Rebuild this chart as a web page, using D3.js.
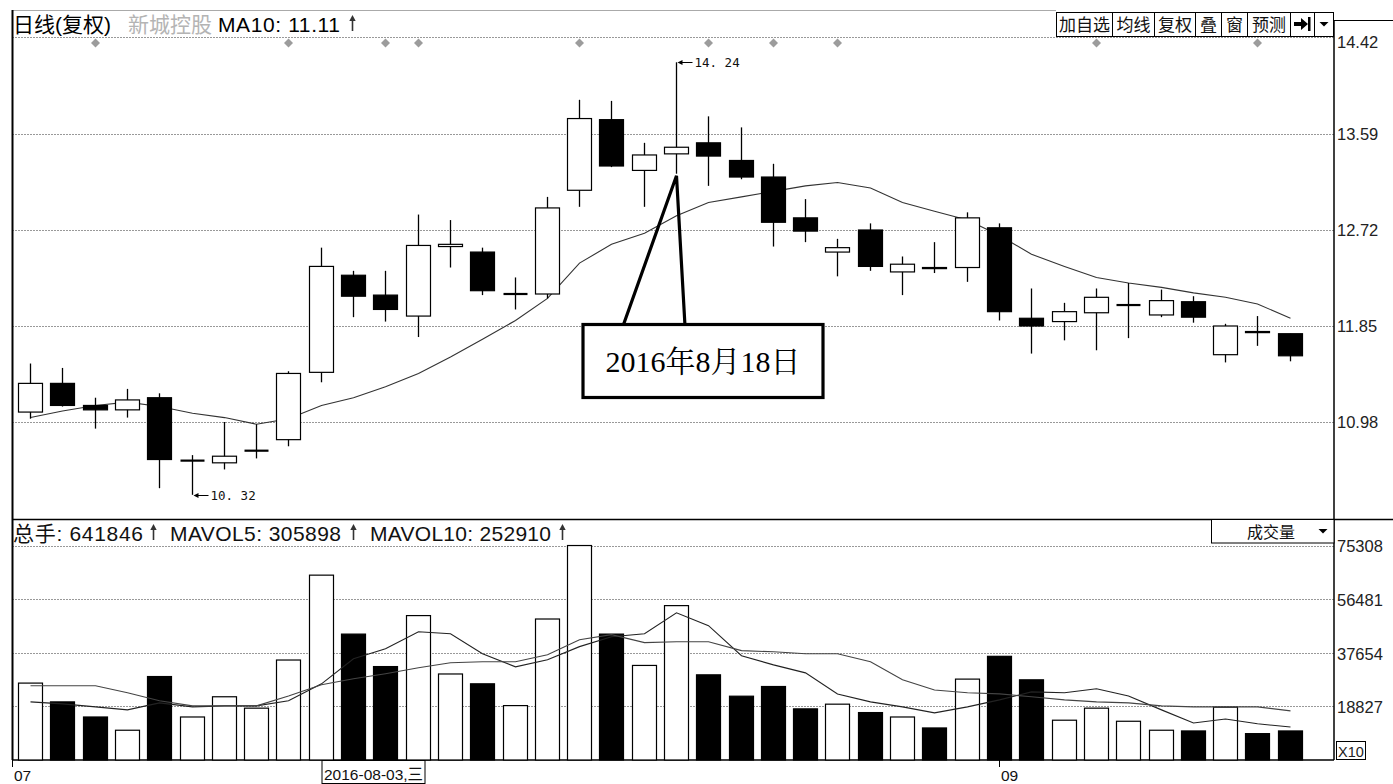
<!DOCTYPE html>
<html><head><meta charset="utf-8">
<script src="https://cdn.jsdelivr.net/npm/d3@7"></script>
<style>
html,body{margin:0;padding:0;background:#fff;}
svg{display:block;}
</style></head><body>
<svg id="chart" width="1393" height="784" font-family="Liberation Sans, Noto Sans CJK SC, sans-serif"></svg>
<script>
// ---------------- data ----------------
const dates = ["2016-07-21","2016-07-22","2016-07-25","2016-07-26","2016-07-27","2016-07-28","2016-07-29","2016-08-01","2016-08-02","2016-08-03",
"2016-08-04","2016-08-05","2016-08-08","2016-08-09","2016-08-10","2016-08-11","2016-08-12","2016-08-15","2016-08-16","2016-08-17",
"2016-08-18","2016-08-19","2016-08-22","2016-08-23","2016-08-24","2016-08-25","2016-08-26","2016-08-29","2016-08-30","2016-08-31",
"2016-09-01","2016-09-02","2016-09-05","2016-09-06","2016-09-07","2016-09-08","2016-09-09","2016-09-12","2016-09-13","2016-09-14"];
const openP  = [11.07,11.33,11.13,11.09,11.20,10.63,10.61,10.72,10.82,11.43,12.31,12.13,11.94,12.57,12.52,12.14,12.14,13.08,13.72,13.26,13.41,13.51,13.35,13.20,12.83,12.52,12.72,12.34,12.38,12.38,12.74,11.92,11.89,11.97,12.04,11.95,12.07,11.59,11.80,11.78];
const highP  = [11.51,11.47,11.20,11.28,11.24,10.68,10.98,10.96,11.44,12.56,12.35,12.35,12.86,12.81,12.56,12.29,13.02,13.90,13.89,13.51,14.24,13.75,13.65,13.32,13.00,12.64,12.78,12.48,12.61,12.88,12.78,12.19,12.06,12.19,12.24,12.18,12.12,11.87,11.94,11.78];
const lowP   = [11.01,11.12,10.92,11.02,10.38,10.32,10.55,10.65,10.76,11.34,11.93,11.89,11.75,12.38,12.13,12.00,12.10,12.93,13.29,12.93,13.23,13.12,13.18,12.57,12.61,12.30,12.35,12.13,12.33,12.25,11.90,11.60,11.72,11.63,11.74,11.93,11.88,11.52,11.67,11.53];
const closeP = [11.33,11.13,11.09,11.18,10.64,10.63,10.67,10.72,11.42,12.39,12.12,12.00,12.58,12.59,12.17,12.14,12.92,13.73,13.30,13.40,13.47,13.39,13.20,12.79,12.71,12.56,12.39,12.41,12.37,12.83,11.98,11.85,11.98,12.11,12.04,12.08,11.93,11.85,11.79,11.58];
const ma10 = [11.02,11.08,11.13,11.16,11.12,11.06,11.02,10.96,11.01,11.13,11.20,11.30,11.42,11.57,11.73,11.90,12.10,12.42,12.59,12.69,12.85,12.97,13.02,13.07,13.12,13.15,13.10,12.97,12.89,12.81,12.67,12.50,12.39,12.29,12.24,12.20,12.15,12.11,12.05,11.92];
const volume = [27000,20400,15100,10450,29300,15100,22200,18200,35100,64900,44200,32800,50700,30200,26750,19100,49500,75300,44200,33200,54200,29900,22400,25800,17950,19600,16650,15100,11250,28400,36400,28150,13970,18200,13600,10450,10200,18550,9260,10200];
const mavol5 = [20400,19700,18650,17600,20060,18650,19000,19000,20800,26750,35550,39070,45050,44350,37300,32700,35200,39800,43300,44350,51700,47150,36600,33400,30600,23200,20400,18650,16550,18650,21100,23900,23600,25000,22500,17600,13000,14400,12700,11600];
const mavol10 = [26050,26050,26050,23600,20800,19000,19000,19000,22500,26400,28500,30300,32400,34150,34500,34500,36960,42240,44000,41200,41500,41500,38400,38000,37300,37300,34500,28150,24600,23600,23200,22200,21100,20400,20050,19000,18650,18650,18650,17250];
const priceTicks = [10.98, 11.85, 12.72, 13.59, 14.42];
const volTicks = [18827, 37654, 56481, 75308];
const markerDates = ["2016-07-25","2016-08-02","2016-08-05","2016-08-08","2016-08-15","2016-08-19","2016-08-23","2016-08-25","2016-09-06","2016-09-13"];
const monthLabels = [["2016-07-21","07"],["2016-09-01","09"]];
const headerTitle = ["日线(复权)", "新城控股", "MA10: 11.11"];
const volHeader = ["总手: 641846", "MAVOL5: 305898", "MAVOL10: 252910"];
const cursorDate = "2016-08-03";
const cursorLabel = "2016-08-03,三";
const calloutDate = "2016-08-18";
const calloutText = "2016年8月18日";
const buttons = ["加自选","均线","复权","叠","窗","预测"];

// ---------------- layout ----------------
const svg = d3.select("#chart");
const L = 12.5, R = 1334, yTop = 37.5, ySep = 519.5, yBot = 760;
const x = d3.scaleBand().domain(dates).range([13.85, 1305.85]).padding(0);
const cx = d => Math.round(x(d) + x.bandwidth()/2) + 0.5;
const bw = 24;
const yP = d3.scaleLinear().domain([10.98, 13.59]).range([422, 134]);
const yV = d3.scaleLinear().domain([0, 75308]).range([yBot, 545.5]);
const idx = d3.range(dates.length);

// grid
const grid = svg.append("g").attr("stroke","#333").attr("stroke-dasharray","1,2").attr("stroke-width",1);
grid.append("line").attr("x1",L).attr("x2",R).attr("y1",yTop).attr("y2",yTop);
priceTicks.filter(t => t < 14).forEach(t => {
  const yy = Math.round(yP(t)) + 0.5;
  grid.append("line").attr("x1",L).attr("x2",R).attr("y1",yy).attr("y2",yy);
});
volTicks.forEach(t => {
  const yy = Math.round(yV(t)) + 0.5;
  grid.append("line").attr("x1",L).attr("x2",R).attr("y1",yy).attr("y2",yy);
});

// frame
const fr = svg.append("g").attr("stroke","#000").attr("fill","none");
fr.append("line").attr("x1",L).attr("x2",1056).attr("y1",10.5).attr("y2",10.5).attr("stroke","#aaa");
fr.append("line").attr("x1",L).attr("x2",L).attr("y1",10).attr("y2",yBot).attr("stroke-width",2);
fr.append("line").attr("x1",R).attr("x2",R).attr("y1",20).attr("y2",yBot).attr("stroke-width",1.5);
fr.append("line").attr("x1",R).attr("x2",1393).attr("y1",20.5).attr("y2",20.5);
fr.append("line").attr("x1",L).attr("x2",1393).attr("y1",ySep).attr("y2",ySep).attr("stroke-width",1.5);
fr.append("line").attr("x1",L).attr("x2",R).attr("y1",yBot).attr("y2",yBot).attr("stroke-width",1.5);

// buttons
const bx = [1056,1112,1154,1195,1221,1247,1290,1314,1334];
const bg = svg.append("g");
bg.append("rect").attr("x",1056.5).attr("y",12.5).attr("width",1333.5-1056.5).attr("height",24).attr("fill","#fff").attr("stroke","#000");
bx.slice(1,-1).forEach(v => bg.append("line").attr("x1",v+0.5).attr("x2",v+0.5).attr("y1",12.5).attr("y2",36.5).attr("stroke","#000"));
buttons.forEach((b,i) => bg.append("text").attr("x",(bx[i]+bx[i+1])/2+0.5).attr("y",31).attr("text-anchor","middle")
  .attr("font-size",17).style("font-family","'Noto Sans CJK SC'").attr("fill","#111").text(b));
bg.append("path").attr("d","M1294,22 h7 v-4 l7,6 l-7,6 v-4 h-7 Z").attr("fill","#000");
bg.append("rect").attr("x",1308).attr("y",17).attr("width",2.5).attr("height",14).attr("fill","#000");
bg.append("path").attr("d","M1319.5,22 h9 l-4.5,4.5 Z").attr("fill","#000");

// up-arrow glyph
function upArrow(xx, yTopA) {
  svg.append("line").attr("x1",xx).attr("x2",xx).attr("y1",yTopA+4).attr("y2",yTopA+16).attr("stroke","#333").attr("stroke-width",1.6);
  svg.append("path").attr("d",`M${xx-3.2},${yTopA+6} L${xx},${yTopA} L${xx+3.2},${yTopA+6} Z`).attr("fill","#333");
}

// header text
const hdr = svg.append("g").attr("font-size",21);
hdr.append("text").attr("x",13).attr("y",32).attr("fill","#000").text(headerTitle[0]);
hdr.append("text").attr("x",128).attr("y",32).attr("fill","#b4b4b4").text(headerTitle[1]);
hdr.append("text").attr("x",218).attr("y",32).attr("fill","#000").attr("textLength",122).text(headerTitle[2]);
upArrow(352.5, 15);

// markers
svg.append("g").selectAll("path").data(markerDates).join("path")
  .attr("transform", d => `translate(${cx(d)},43)`)
  .attr("d","M0,-4.5L4.5,0L0,4.5L-4.5,0Z").attr("fill","#9c9c9c");

// price MA10
svg.append("path").datum(idx).attr("fill","none").attr("stroke","#333").attr("stroke-width",1.1)
  .attr("d", d3.line().x(i => cx(dates[i])).y(i => yP(ma10[i])));

// candles
const cg = svg.append("g");
idx.forEach(i => {
  const d = dates[i], c = cx(d);
  const o = openP[i], cl = closeP[i];
  cg.append("line").attr("x1",c).attr("x2",c).attr("y1",yP(highP[i])).attr("y2",yP(lowP[i])).attr("stroke","#000").attr("stroke-width",1.3);
  if (o === cl) {
    cg.append("line").attr("x1",c-bw/2).attr("x2",c+bw/2).attr("y1",yP(o)).attr("y2",yP(o)).attr("stroke","#000").attr("stroke-width",2.2);
  } else {
    const top = yP(Math.max(o,cl)), h = Math.max(1, Math.abs(yP(o)-yP(cl)));
    cg.append("rect").attr("x",c-bw/2).attr("y",top).attr("width",bw).attr("height",h)
      .attr("fill", cl > o ? "#fff" : "#000").attr("stroke","#000").attr("stroke-width",1.2);
  }
});

// extreme annotations
function extremeLabel(i, value) {
  const c = cx(dates[i]), yy = Math.round(yP(value)) + 0.5;
  svg.append("path").attr("d",`M${c+1},${yy} l5,-2.5 v5 Z`).attr("fill","#000");
  svg.append("line").attr("x1",c+4).attr("x2",c+16).attr("y1",yy).attr("y2",yy).attr("stroke","#000");
  svg.append("text").style("font-family","'DejaVu Sans Mono'").attr("font-size",12.5).attr("fill","#111")
    .attr("x",c+18).attr("y",yy+4.5).text(d3.format(".2f")(value).replace(".", ". "));
}
const iMax = d3.maxIndex(highP), iMin = d3.minIndex(lowP);
extremeLabel(iMax, highP[iMax]);
extremeLabel(iMin, lowP[iMin]);

// callout
const ci = dates.indexOf(calloutDate);
const tipX = cx(calloutDate), tipY = yP(lowP[ci]) + 2;
svg.append("path").attr("d",`M623,326 L${tipX},${tipY} L685,326`).attr("fill","none").attr("stroke","#000").attr("stroke-width",3.2).attr("stroke-linejoin","miter");
svg.append("rect").attr("x",583).attr("y",324.5).attr("width",240).attr("height",73).attr("fill","#fff").attr("stroke","#000").attr("stroke-width",3.2);
svg.append("text").attr("x",703).attr("y",372).attr("text-anchor","middle").attr("font-size",30)
  .style("font-family","'Liberation Serif', 'Noto Serif CJK SC', 'Noto Sans CJK SC', serif").attr("fill","#000").text(calloutText);

// volume bars
svg.append("g").selectAll("rect").data(idx).join("rect")
  .attr("x", i => cx(dates[i]) - bw/2).attr("y", i => yV(volume[i]))
  .attr("width", bw).attr("height", i => yBot - yV(volume[i]))
  .attr("fill", i => closeP[i] >= openP[i] ? "#fff" : "#000").attr("stroke","#000").attr("stroke-width",1.2);

// volume MAs
svg.append("path").datum(idx).attr("fill","none").attr("stroke","#222").attr("stroke-width",1.1)
  .attr("d", d3.line().x(i => cx(dates[i])).y(i => yV(mavol5[i])));
svg.append("path").datum(idx).attr("fill","none").attr("stroke","#444").attr("stroke-width",1.1)
  .attr("d", d3.line().x(i => cx(dates[i])).y(i => yV(mavol10[i])));

// volume header
const vh = svg.append("g").attr("font-size",21).attr("fill","#111");
vh.append("text").attr("x",13).attr("y",541).attr("textLength",130).text(volHeader[0]);
upArrow(153.5, 524);
vh.append("text").attr("x",170).attr("y",541).attr("textLength",171).text(volHeader[1]);
upArrow(353.5, 524);
vh.append("text").attr("x",370).attr("y",541).attr("textLength",181).text(volHeader[2]);
upArrow(562.5, 524);

// 成交量 box
svg.append("rect").attr("x",1211.5).attr("y",519.5).attr("width",122.5).attr("height",23.5).attr("fill","#fff").attr("stroke","#000");
svg.append("text").attr("x",1247).attr("y",538).attr("font-size",16).style("font-family","'Noto Sans CJK SC'").attr("fill","#111").text("成交量");
svg.append("path").attr("d","M1318.5,529 h9 l-4.5,4.5 Z").attr("fill","#000");

// right axis labels
const ax = svg.append("g").attr("font-size",16.5).attr("fill","#222");
priceTicks.forEach(t => ax.append("text").attr("x",1337).attr("y",yP(t)).attr("dy","0.36em").text(d3.format(".2f")(t)));
volTicks.forEach(t => ax.append("text").attr("x",1337).attr("y",yV(t)+1).attr("dy","0.36em").text(t));
svg.append("rect").attr("x",1336.5).attr("y",741.5).attr("width",29).attr("height",18).attr("fill","#fff").attr("stroke","#000");
svg.append("text").attr("x",1338).attr("y",757).attr("font-size",14.5).attr("fill","#222").text("X10");

// x axis labels
monthLabels.forEach(([d,t], k) => {
  const xx = k === 0 ? L : cx(d);
  svg.append("line").attr("x1",xx).attr("x2",xx).attr("y1",yBot).attr("y2",yBot+7).attr("stroke","#000");
  svg.append("text").attr("x",xx+1.5).attr("y",781).attr("font-size",15.5).attr("fill","#111").text(t);
});
const cxc = cx(cursorDate) + 0.5;
svg.append("rect").attr("x",cxc).attr("y",760.5).attr("width",103).attr("height",23).attr("fill","#fff").attr("stroke","#000");
svg.append("text").attr("x",cxc+2).attr("y",780).attr("font-size",15.5).attr("fill","#111").text(cursorLabel);
</script>
</body></html>
